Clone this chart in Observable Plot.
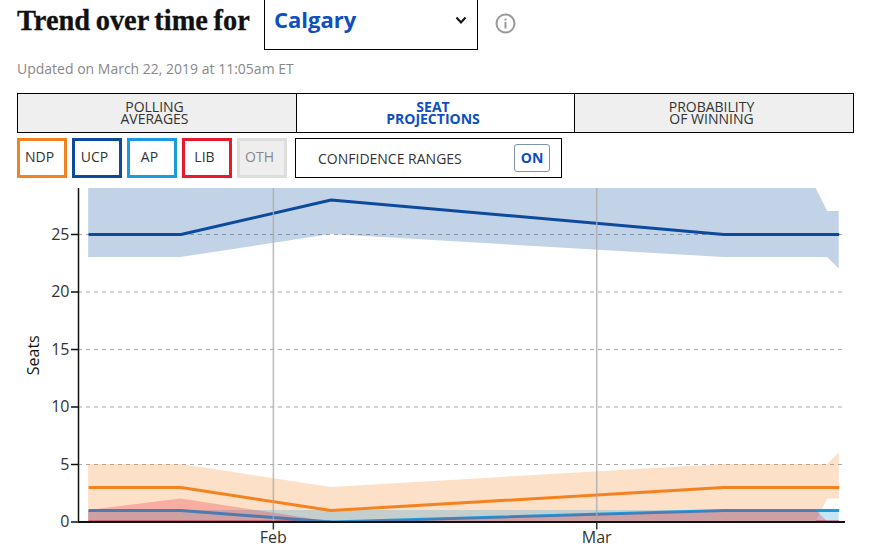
<!DOCTYPE html>
<html><head><meta charset="utf-8">
<script src="https://cdn.jsdelivr.net/npm/d3@7"></script>
<script src="https://cdn.jsdelivr.net/npm/@observablehq/plot@0.6"></script>
<style>
html,body{margin:0;padding:0;background:#fff;}
body{width:872px;height:550px;position:relative;overflow:hidden;font-family:"Open Sans",sans-serif;color:#333;}
.abs{position:absolute;box-sizing:border-box;}
#title{left:17px;top:3px;font:bold 28.4px/36px "Liberation Serif",serif;color:#111;white-space:nowrap;word-spacing:-1.5px;-webkit-text-stroke:.3px #111;}
#sel{left:264px;top:-1px;width:214px;height:51px;border:1px solid #000;font-weight:700;font-size:22px;line-height:44px;padding-left:9px;padding-bottom:0;color:#0d4fc0;}
#sel span{position:relative;top:-3px;}
#chev{left:455px;top:16px;width:12px;height:9px;}
#info{left:495px;top:13px;width:21px;height:21px;}
#upd{left:17px;top:59px;font-size:14px;line-height:20px;color:#888;white-space:nowrap;}
.tab{top:93px;height:40px;border:1px solid #000;background:#efefef;text-align:center;font-size:14px;line-height:12px;padding-top:7px;padding-right:5px;color:#333;}
.tab.on{background:#fff;color:#0d4fc0;font-weight:700;}
.btn{top:138px;width:50px;height:40px;border:3px solid;text-align:center;font-size:14px;line-height:31px;padding-right:5px;color:#333;}
#conf{left:295px;top:138px;width:267px;height:40px;border:1px solid #000;font-size:14px;line-height:40px;padding-left:22px;}
#on{left:514px;top:144px;width:36px;height:28px;border:1px solid #7f93a8;border-radius:3px;color:#0d4fc0;font-weight:700;font-size:14px;line-height:26px;text-align:center;}
#chart{left:0;top:180px;}
#chart svg{display:block;}
</style></head><body>
<div class="abs" id="title"></div>
<div class="abs" id="sel"><span id="selText"></span></div>
<svg class="abs" id="chev" viewBox="0 0 12 9"><path d="M1.5 1.5L6 6.5L10.5 1.5" fill="none" stroke="#111" stroke-width="2"/></svg>
<svg class="abs" id="info" viewBox="0 0 21 21"><circle cx="10.5" cy="10.5" r="9" fill="none" stroke="#999" stroke-width="2"/><rect x="9.5" y="9" width="2" height="6.5" fill="#999"/><rect x="9.5" y="5.5" width="2" height="2" fill="#999"/></svg>
<div class="abs" id="upd"></div>
<div id="tabs"></div>
<div id="btns"></div>
<div class="abs" id="conf"></div>
<div class="abs" id="on"></div>
<div class="abs" id="chart"></div>
<script>
const titleText = "Trend over time for";
const regionText = "Calgary";
const updatedText = "Updated on March 22, 2019 at 11:05am ET";
const tabLabels = [["POLLING","AVERAGES"],["SEAT","PROJECTIONS"],["PROBABILITY","OF WINNING"]];
const partyLabels = ["NDP","UCP","AP","LIB","OTH"];
const partyColors = ["#f58220","#0d4a9e","#1b9ade","#e8192c","#dddddd"];
const confidenceText = "CONFIDENCE RANGES";
const onText = "ON";

const dates = ["2019-01-16","2019-01-24","2019-02-06","2019-03-12","2019-03-20","2019-03-21","2019-03-22"];
const ndpMean = [3,3,1,3,3,3,3];
const ndpLow  = [0,0,0,0,0,2,2];
const ndpHigh = [5,5,3,5,5,5,6];
const ucpMean = [25,25,28,25,25,25,25];
const ucpLow  = [23,23,25,23,23,23,22];
const ucpHigh = [29,29,29,29,29,27,27];
const apMean  = [1,1,0,1,1,1,1];
const apLow   = [0,0,0,0,0,0,0];
const apHigh  = [1,1,1,1,1,1,1];
const libMean = [0,0,0,null,0,0,0];
const libLow  = [0,0,0,0,0,0,0];
const libHigh = [1,2,0,1,1,0,0];
const yTicks = [0,5,10,15,20,25];
const monthTicks = ["2019-02-01","2019-03-01"];
const monthLabels = ["Feb","Mar"];
const yLabel = "Seats";

document.getElementById("title").textContent = titleText;
document.getElementById("selText").textContent = regionText;
document.getElementById("upd").textContent = updatedText;
document.getElementById("conf").textContent = confidenceText;
document.getElementById("on").textContent = onText;

const tabBox = [[17,280],[296,279],[574,280]];
tabLabels.forEach((t,i)=>{
  const d=document.createElement("div");
  d.className="abs tab"+(i===1?" on":"");
  d.style.left=tabBox[i][0]+"px"; d.style.width=tabBox[i][1]+"px";
  d.innerHTML=t.join("<br>");
  document.getElementById("tabs").appendChild(d);
});
partyLabels.forEach((p,i)=>{
  const d=document.createElement("div");
  d.className="abs btn";
  d.style.left=(17+55*i)+"px";
  d.style.borderColor=partyColors[i];
  if(p==="OTH"){d.style.background="#eee";d.style.color="#888";}
  d.textContent=p;
  document.getElementById("btns").appendChild(d);
});

const t = s => new Date(s+"T00:00:00Z");
const table = dates.map((d,i)=>({date:t(d),ndpMean:ndpMean[i],ndpLow:ndpLow[i],ndpHigh:ndpHigh[i],
  ucpMean:ucpMean[i],ucpLow:ucpLow[i],ucpHigh:ucpHigh[i],apMean:apMean[i],apLow:apLow[i],apHigh:apHigh[i],
  libMean:libMean[i],libLow:libLow[i],libHigh:libHigh[i]}));
const band=(lo,hi,c)=>Plot.areaY(table,{x:"date",y1:lo,y2:hi,fill:c,fillOpacity:.25});
const line=(m,c)=>Plot.line(table,{x:"date",y:m,stroke:c,strokeWidth:3,strokeLinecap:"butt",strokeLinejoin:"miter",clip:true});
const [cN,cU,cA,cL]=partyColors;
const months=monthTicks.map(t);
const xStart=new Date(Date.UTC(2019,0,15,3));

const plot = Plot.plot({
  width:872,height:370,marginLeft:78,marginRight:27,marginTop:8,marginBottom:28.5,
  style:{fontFamily:'"Open Sans",sans-serif',fontSize:"16px",color:"#333",background:"transparent"},
  x:{type:"utc",domain:[xStart,new Date(Date.UTC(2019,2,22,13))]},
  y:{domain:[0,29]},
  marks:[
    Plot.ruleY(yTicks.filter(v=>v>0),{stroke:"#aaa",strokeWidth:1,strokeDasharray:"4,4"}),
    band("ndpLow","ndpHigh",cN),
    band("ucpLow","ucpHigh",cU),
    line("libMean",cL),
    band("apLow","apHigh",cA),
    line("apMean",cA),
    band("libLow","libHigh",cL),
    line("ndpMean",cN),
    line("ucpMean",cU),
    Plot.ruleX(months,{stroke:"#aaa",strokeOpacity:.8,strokeWidth:1.5}),
    Plot.axisX({ticks:months,tickFormat:(d,i)=>monthLabels[i],tickSize:8,tickPadding:2,label:null,stroke:"#333",strokeWidth:1.5}),
    Plot.axisY({ticks:yTicks,tickSize:7,tickPadding:2,label:null,stroke:"#111",strokeWidth:1.5}),
    Plot.ruleX([xStart],{stroke:"#111",strokeWidth:1.5}),
    Plot.ruleY([0],{stroke:"#111",strokeWidth:2}),
    Plot.text([yLabel],{frameAnchor:"left",textAnchor:"middle",dx:-45,rotate:-90,fontSize:16,fill:"#111"})
  ]
});
document.getElementById("chart").appendChild(plot);
</script>
</body></html>
